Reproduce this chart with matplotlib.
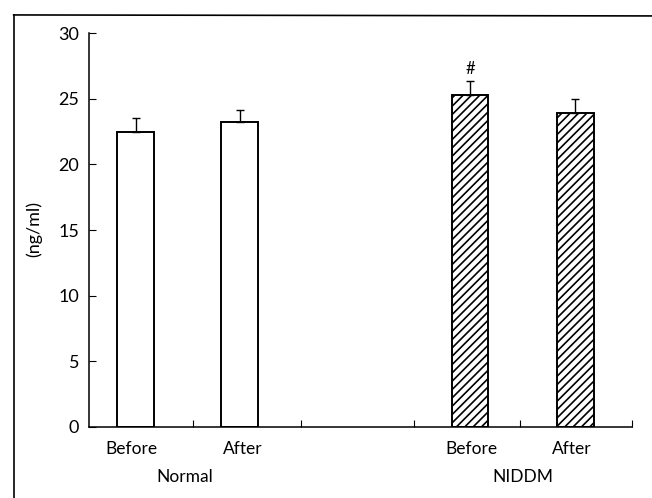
import matplotlib

matplotlib.use("Agg")
import matplotlib.pyplot as plt
from matplotlib.lines import Line2D
from matplotlib.transforms import blended_transform_factory

plt.rcParams["font.family"] = ["Lato", "DejaVu Sans"]
plt.rcParams["hatch.linewidth"] = 1.2

# group means and SEM (ng/ml)
groups = ["Normal", "NIDDM"]
phases = ["Before", "After"]
bar_pos = [0.43, 1.39, 3.51, 4.48]
means = [22.5, 23.2, 25.3, 23.9]
sems = [1.0, 0.9, 1.05, 1.1]
hatches = ["", "", "////", "////"]
label_pos = [0.39, 1.42, 3.52, 4.45]
group_pos = [0.885, 4.0]
y_ticks = [0, 5, 10, 15, 20, 25, 30]
x_ticks = [0.96, 1.95, 2.99, 3.97, 5.0]

fig = plt.figure(figsize=(6.52, 4.98), dpi=100)
ax = fig.add_axes([0.1365, 0.1426, 0.8325, 0.7911])

for x, m, e, h in zip(bar_pos, means, sems, hatches):
    ax.bar(x, m, width=0.34, color="white", edgecolor="black", linewidth=1.4,
           hatch=h, zorder=2)
    ax.errorbar(x, m, yerr=[[0], [e]], fmt="none", ecolor="black",
                elinewidth=1.0, capsize=2.8, capthick=1.0, zorder=3)

# significance marker over NIDDM before
ax.text(bar_pos[2], means[2] + sems[2] + 0.3, "#", ha="center", va="bottom",
        fontsize=12)

ax.set_xlim(0, 5)
ax.set_ylim(0, 30)
ax.set_yticks(y_ticks)
ax.set_xticks(x_ticks)
ax.set_xticklabels([])
ax.tick_params(axis="y", direction="in", length=5, labelsize=13, pad=7)
ax.tick_params(axis="x", direction="in", length=5)
for s in ("top", "right"):
    ax.spines[s].set_visible(False)
for s in ("left", "bottom"):
    ax.spines[s].set_linewidth(1.1)
fig.text(0.052, 0.54, "(ng/ml)", rotation=90, ha="center", va="center",
         fontsize=13)

tr = blended_transform_factory(ax.transData, ax.transAxes)
for x, lab in zip(label_pos, phases * 2):
    ax.text(x, -0.055, lab, transform=tr, ha="center", va="center", fontsize=12.5)
for x, g in zip(group_pos, groups):
    ax.text(x, -0.128, g, transform=tr, ha="center", va="center", fontsize=12.5)

# outer frame (left and top edges)
fig.add_artist(Line2D([0.021, 0.021], [0.0, 0.970], color="black", lw=1.2))
fig.add_artist(Line2D([0.021, 1.0], [0.970, 0.968], color="black", lw=1.2))

fig.savefig("out.png", dpi=100)
